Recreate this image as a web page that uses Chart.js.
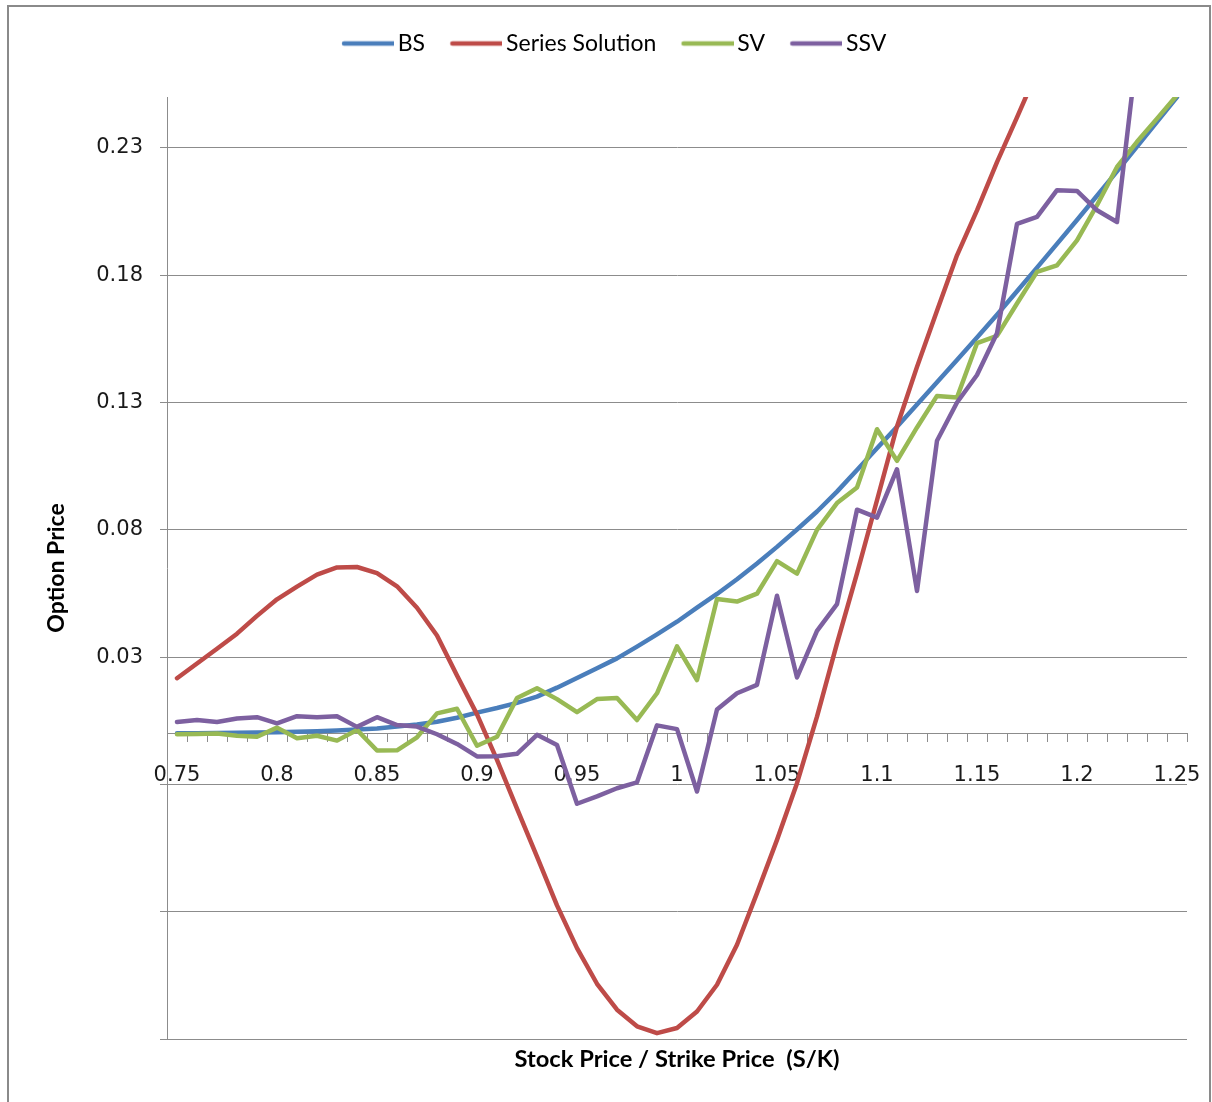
<!DOCTYPE html>
<html>
<head>
<meta charset="utf-8">
<script src="https://cdn.jsdelivr.net/npm/chart.js@4/dist/chart.umd.min.js"></script>
<style>
html,body{margin:0;padding:0;background:#fff;}
#wrap{position:relative;width:1212px;height:1102px;}
canvas{display:block;}
</style>
</head>
<body>
<div id="wrap"><canvas id="c" width="1212" height="1102"></canvas></div>
<script>
// ---------- data ----------
const categories = ['0.75','0.76','0.77','0.78','0.79','0.80','0.81','0.82','0.83','0.84',
  '0.85','0.86','0.87','0.88','0.89','0.90','0.91','0.92','0.93','0.94',
  '0.95','0.96','0.97','0.98','0.99','1.00','1.01','1.02','1.03','1.04',
  '1.05','1.06','1.07','1.08','1.09','1.10','1.11','1.12','1.13','1.14',
  '1.15','1.16','1.17','1.18','1.19','1.20','1.21','1.22','1.23','1.24','1.25'];

const bsValues = [0.0001,0.0001,0.0002,0.0003,0.0004,0.0005,0.0007,0.0009,0.0012,0.0016,
  0.0020,0.0027,0.0035,0.0046,0.0062,0.0082,0.0100,0.0120,0.0145,0.0180,
  0.0218,0.0256,0.0295,0.0341,0.0389,0.0439,0.0494,0.0548,0.0606,0.0668,
  0.0733,0.0801,0.0872,0.0950,0.1035,0.1120,0.1205,0.1292,0.1380,0.1467,
  0.1555,0.1645,0.1737,0.1830,0.1923,0.2017,0.2112,0.2208,0.2305,0.2402,0.2500];

const seriesSolutionValues = [0.0217,0.0275,0.0333,0.0392,0.0462,0.0527,0.0577,0.0624,0.0652,0.0654,
  0.0630,0.0578,0.0494,0.0385,0.0228,0.0075,-0.0104,-0.0295,-0.0484,-0.0675,
  -0.0843,-0.0983,-0.1085,-0.1150,-0.1177,-0.1157,-0.1092,-0.0987,-0.0830,-0.0627,
  -0.0418,-0.0195,0.0066,0.0354,0.0629,0.0916,0.1206,0.1440,0.1660,0.1878,
  0.2055,0.2244,0.2420,0.2600,0.2780,0.2950,0.3120,0.3280,0.3440,0.3590,0.3740];

const svValues = [-0.0003,-0.0002,0.0000,-0.0009,-0.0013,0.0023,-0.0019,-0.0009,-0.0028,0.0014,
  -0.0067,-0.0066,-0.0015,0.0079,0.0097,-0.0048,-0.0013,0.0139,0.0178,0.0135,
  0.0084,0.0135,0.0139,0.0053,0.0158,0.0342,0.0210,0.0528,0.0518,0.0549,
  0.0677,0.0628,0.0800,0.0905,0.0966,0.1195,0.1071,0.1202,0.1326,0.1320,
  0.1533,0.1562,0.1689,0.1813,0.1839,0.1937,0.2075,0.2225,0.2324,0.2415,0.2507];

const ssvValues = [0.0045,0.0053,0.0045,0.0059,0.0064,0.0040,0.0068,0.0064,0.0068,0.0026,
  0.0064,0.0033,0.0027,-0.0003,-0.0041,-0.0090,-0.0089,-0.0080,-0.0005,-0.0045,
  -0.0276,-0.0247,-0.0215,-0.0192,0.0032,0.0017,-0.0228,0.0094,0.0158,0.0191,
  0.0541,0.0220,0.0403,0.0508,0.0879,0.0848,0.1038,0.0560,0.1150,0.1300,
  0.1408,0.1572,0.2002,0.2029,0.2134,0.2131,0.2055,0.2009,0.2680,0.3000,0.3300];

const yTickValues = [-0.12,-0.07,-0.02,0.03,0.08,0.13,0.18,0.23];
const seriesNames = ['BS','Series Solution','SV','SSV'];
const seriesColors = ['#4A7EBB','#BE4B48','#98B954','#7D60A0'];

// ---------- styling ----------
const GRID = '#8C8C8C';
const LEGEND_FONT = 23;
const LINE_W = 4.5;

function legendLine(color){
  const c = document.createElement('canvas');
  c.width = 60; c.height = 8;
  const g = c.getContext('2d');
  g.strokeStyle = color; g.lineWidth = LINE_W; g.lineCap = 'round';
  g.beginPath(); g.moveTo(10, 4); g.lineTo(60, 4); g.stroke();
  return c;
}

const valueSets = [bsValues, seriesSolutionValues, svValues, ssvValues];
const datasets = valueSets.map((vals, i) => ({
  label: seriesNames[i],
  data: vals,
  borderColor: seriesColors[i],
  backgroundColor: seriesColors[i],
  borderWidth: LINE_W,
  pointRadius: 0,
  pointHoverRadius: 0,
  pointStyle: legendLine(seriesColors[i]),
  tension: 0,
  borderJoinStyle: 'round',
  borderCapStyle: 'round',
  clip: 0,
  order: valueSets.length - i,   // later series drawn on top, as in the reference
  xAxisID: 'x',
  yAxisID: 'y'
}));

const framePlugin = {
  id: 'frame',
  beforeDraw(chart){
    const ctx = chart.ctx;
    ctx.save();
    ctx.strokeStyle = '#8A8A8A';
    ctx.lineWidth = 2;
    ctx.strokeRect(8, 6, 1202, 1110);
    ctx.restore();
  }
};

const chart = new Chart(document.getElementById('c'), {
  type: 'line',
  data: { labels: categories, datasets },
  plugins: [framePlugin],
  options: {
    responsive: false,
    animation: false,
    devicePixelRatio: 1,
    layout: { padding: { top: 7, left: 41, right: 25, bottom: 0 } },
    plugins: {
      tooltip: { enabled: false },
      legend: {
        display: true,
        position: 'top',
        labels: {
          usePointStyle: true,
          pointStyleWidth: 44.5,
          padding: 25,
          color: '#000',
          font: { family: 'Lato', size: LEGEND_FONT },
          sort: (a, b) => a.datasetIndex - b.datasetIndex
        }
      }
    },
    scales: {
      x: {
        type: 'category',
        position: { y: 0 },
        offset: true,
        grid: { display: true, drawOnChartArea: false, drawTicks: true, tickLength: 8, offset: true, color: GRID, lineWidth: 1 },
        border: { display: true, color: GRID, width: 1 },
        ticks: {
          autoSkip: false, maxRotation: 0, minRotation: 0, padding: 21,
          color: '#1a1a1a',
          font: { family: 'DejaVu Sans', size: 21 },
          callback: (v, i) => (i % 5 === 0 ? String(Number(categories[i])) : '')
        },
        afterFit: s => { s.height = 0; s.paddingLeft = 0; s.paddingRight = 0; }
      },
      xt: {
        type: 'linear',
        position: 'bottom',
        min: 0, max: 1,
        grid: { display: false },
        border: { display: false },
        ticks: { display: false },
        title: {
          display: true,
          text: 'Stock Price / Strike Price  (S/K)',
          color: '#000',
          font: { family: 'Lato', size: 23.7, weight: 'bold' },
          padding: { top: 0, bottom: 28 }
        },
        afterFit: s => { s.height = 63; s.paddingLeft = 0; s.paddingRight = 0; }
      },
      y: {
        type: 'linear',
        position: 'left',
        min: -0.12,
        max: 0.25,
        afterBuildTicks: s => { s.ticks = yTickValues.map(v => ({ value: v })); },
        grid: { color: GRID, lineWidth: 1, drawTicks: true, tickLength: 7 },
        border: { display: true, color: GRID, width: 1 },
        ticks: {
          padding: 17,
          color: '#1a1a1a',
          font: { family: 'DejaVu Sans', size: 21 },
          callback: v => (v > 0 ? v.toFixed(2) : '')
        },
        title: {
          display: true,
          text: 'Option Price',
          color: '#000',
          font: { family: 'Lato', size: 23, weight: 'bold' },
          padding: { top: 2, bottom: 0 }
        },
        afterFit: s => { s.width = 126; }
      }
    }
  }
});

// pin the legend block height so the plot area starts where the reference's does
const origFit = chart.legend.fit;
chart.legend.fit = function(){ origFit.call(this); this.height = 90; };
chart.update();
</script>
</body>
</html>
